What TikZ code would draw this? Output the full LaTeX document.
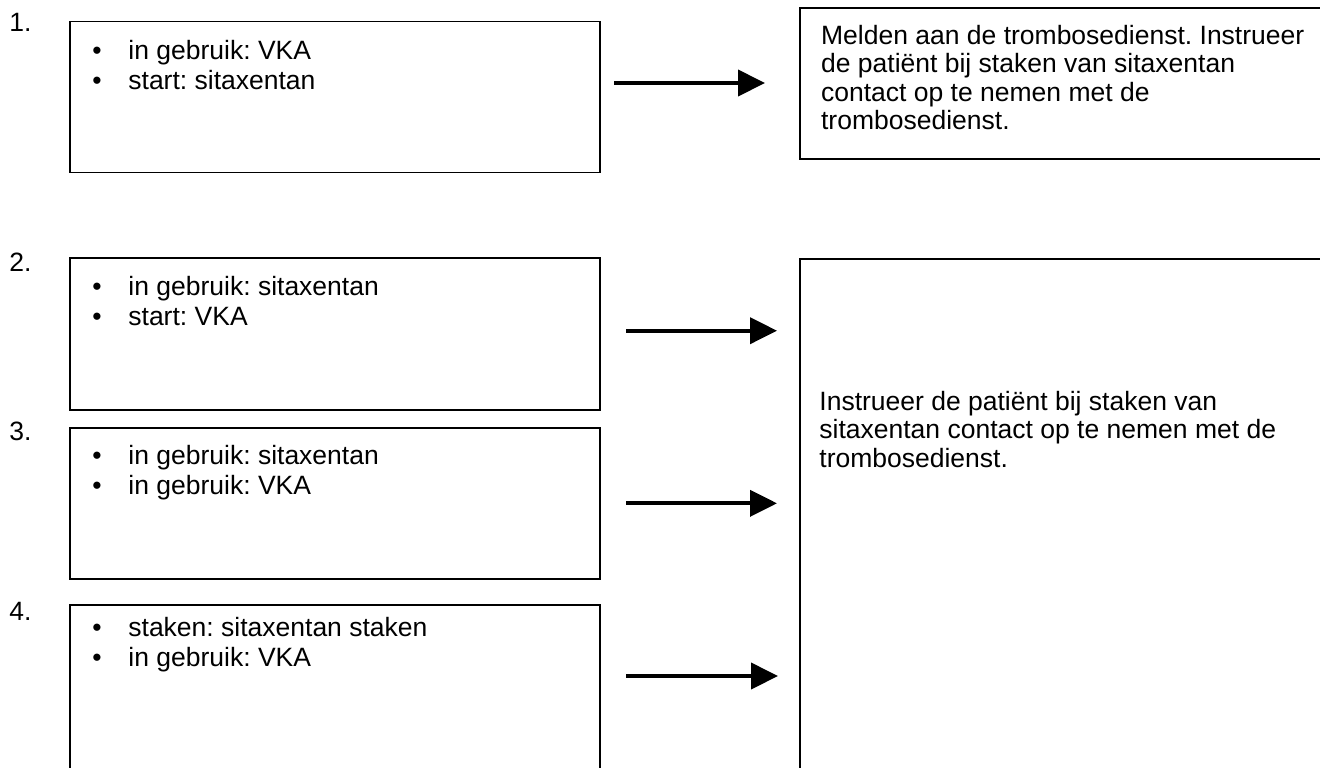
\documentclass[tikz,border=0pt]{standalone}
\usepackage{fontspec}
\setmainfont{Liberation Sans}
\usetikzlibrary{arrows.meta}
\frenchspacing
\tikzset{
  box/.style={draw, line width=0.85pt, anchor=north west, inner sep=0pt},
  lst/.style={anchor=base west, inner sep=0pt, font=\fontsize{13.25pt}{15.25pt}\selectfont},
  rtxt/.style={anchor=base west, inner sep=0pt, font=\fontsize{13.25pt}{14.25pt}\selectfont},
  num/.style={anchor=base west, inner sep=0pt, font=\fontsize{13.25pt}{15.5pt}\selectfont},
  arr/.style={line width=2pt, -{Triangle[length=13.5pt,width=13pt]}}
}
\newcommand{\blist}[2]{\begin{tabular}[t]{@{}p{18pt}@{}l@{}}\textbullet & #1\\ \textbullet & #2\end{tabular}}
\begin{document}
\begin{tikzpicture}[x=0.5pt,y=-0.5pt]
\useasboundingbox (0,0) rectangle (1320,767);
\clip (0,0) rectangle (1320,767);
% left boxes
\node[box, minimum width=265pt, minimum height=75.5pt] (b1) at (69,20.7) {};
\node[box, minimum width=265pt, minimum height=76pt] (b2) at (69,257) {};
\node[box, minimum width=265pt, minimum height=75.5pt] (b3) at (69,427) {};
\node[box, minimum width=265pt, minimum height=110pt] (b4) at (69,604) {};
% right boxes
\node[box, minimum width=280pt, minimum height=75.5pt] (r1) at (799,7) {};
\node[box, minimum width=280pt, minimum height=290pt] (r2) at (799,258) {};
% numbers
\node[num] (n1) at (9,31) {1.};
\node[num] (n2) at (9,271) {2.};
\node[num] (n3) at (9,440) {3.};
\node[num] (n4) at (9,620) {4.};
% lists
\node[lst] (t1) at (92,59.3) {\blist{in gebruik: VKA}{start: sitaxentan}};
\node[lst] (t2) at (92,295) {\blist{in gebruik: sitaxentan}{start: VKA}};
\node[lst] (t3) at (92,464) {\blist{in gebruik: sitaxentan}{in gebruik: VKA}};
\node[lst] (t4) at (92,636) {\blist{staken: sitaxentan staken}{in gebruik: VKA}};
% right texts
\node[rtxt] (rt1) at (820.7,44) {\begin{tabular}[t]{@{}l@{}}Melden aan de trombosedienst. Instrueer\\de patiënt bij staken van sitaxentan\\contact op te nemen met de\\trombosedienst.\end{tabular}};
\node[rtxt] (rt2) at (819,410) {\begin{tabular}[t]{@{}l@{}}Instrueer de patiënt bij staken van\\sitaxentan contact op te nemen met de\\trombosedienst.\end{tabular}};
% arrows
\coordinate (a1s) at (614,83);  \coordinate (a1e) at (765,83);
\coordinate (a2s) at (626,330.7); \coordinate (a2e) at (777,330.7);
\coordinate (a3s) at (626,503.3); \coordinate (a3e) at (777,503.3);
\coordinate (a4s) at (626,676); \coordinate (a4e) at (778,676);
\draw[arr] (a1s) -- (a1e);
\draw[arr] (a2s) -- (a2e);
\draw[arr] (a3s) -- (a3e);
\draw[arr] (a4s) -- (a4e);
\end{tikzpicture}
\end{document}
